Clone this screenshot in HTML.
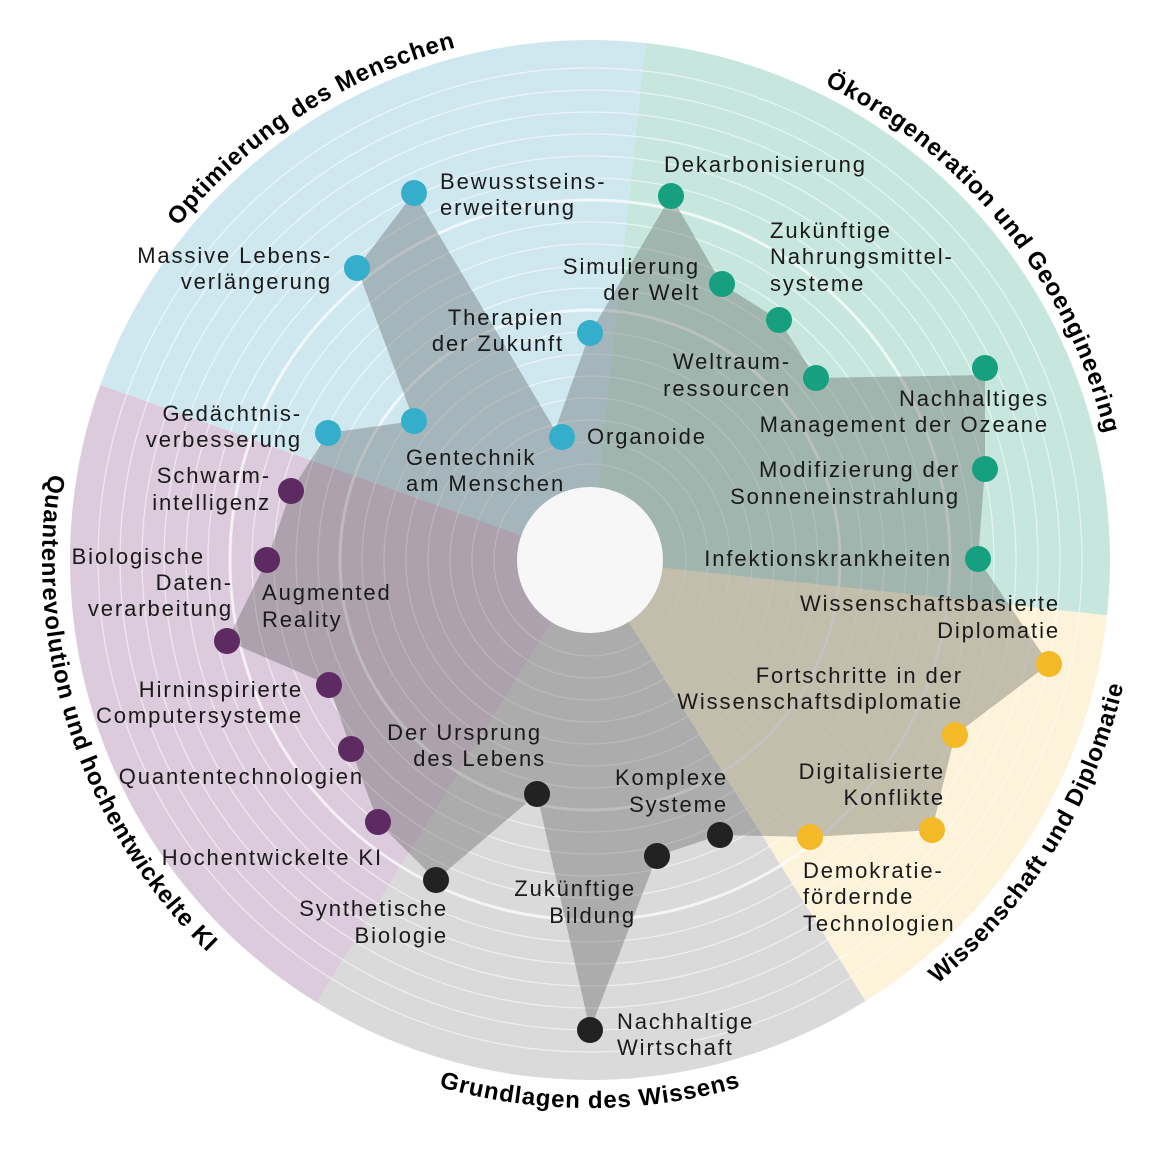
<!DOCTYPE html>
<html><head><meta charset="utf-8"><style>
html,body{margin:0;padding:0;background:#fff;}
svg{display:block}
text{font-family:"Liberation Sans",sans-serif;}
.l{font-size:22px;fill:#1a1a1a;letter-spacing:1.9px}
.c{font-size:24px;font-weight:bold;fill:#000;letter-spacing:0.9px}
</style></head><body>
<svg width="1158" height="1150" viewBox="0 0 1158 1150" xmlns="http://www.w3.org/2000/svg">
<defs>
<path id="p1" d="M60.6,585.9 A530,530 0 0 1 832.2,88.8"/>
<path id="p2" d="M509.8,36.1 A530,530 0 0 1 1083.8,752.5"/>
<path id="p3" d="M571.8,1107.7 A548,548 0 0 0 1073.4,301.9"/>
<path id="p4" d="M115.4,834 A548,548 0 0 0 1064.6,834"/>
<path id="p5" d="M180.2,196.2 A548,548 0 0 0 479.8,1096.8"/>
</defs>
<path d="M590,560 L645.3,43 A520,520 0 0 1 1107,615.3 Z" fill="#c7e7de"/>
<path d="M590,560 L1107,615.3 A520,520 0 0 1 865.5,1001 Z" fill="#fcf3da"/>
<path d="M590,560 L865.5,1001 A520,520 0 0 1 316.7,1002.4 Z" fill="#dadada"/>
<path d="M590,560 L316.7,1002.4 A520,520 0 0 1 100.4,384.7 Z" fill="#dccbdc"/>
<path d="M590,560 L100.4,384.7 A520,520 0 0 1 645.3,43 Z" fill="#cfe8f0"/>
<g fill="none" stroke="#fff" stroke-opacity="0.55" stroke-width="1.3">
<circle cx="590" cy="560" r="96"/><circle cx="590" cy="560" r="118"/><circle cx="590" cy="560" r="140"/><circle cx="590" cy="560" r="162"/><circle cx="590" cy="560" r="184"/><circle cx="590" cy="560" r="206"/><circle cx="590" cy="560" r="228"/><circle cx="590" cy="560" r="272"/><circle cx="590" cy="560" r="294"/><circle cx="590" cy="560" r="316"/><circle cx="590" cy="560" r="338"/><circle cx="590" cy="560" r="382"/><circle cx="590" cy="560" r="404"/><circle cx="590" cy="560" r="426"/><circle cx="590" cy="560" r="448"/><circle cx="590" cy="560" r="470"/><circle cx="590" cy="560" r="492"/>
</g>
<g fill="none" stroke="#fff" stroke-opacity="0.7" stroke-width="3">
<circle cx="590" cy="560" r="250"/><circle cx="590" cy="560" r="360"/>
</g>
<polygon fill="#4a4a4a" fill-opacity="0.32" points="671,196 722,284 779,320 816,378 985,375 985,469 978,559 1049,664 955,735 932,830 810,837 720,835 657,856 590,1030 537,794 436,880 378,822 351,749 329,685 227,641 267,560 291,491 328,433 414,421 357,268 414,193 555,430 590,333"/>
<circle cx="590" cy="560" r="73" fill="#f7f7f7"/>
<g fill="#35aecb">
<circle cx="414" cy="193" r="13"/><circle cx="357" cy="268" r="13"/><circle cx="590" cy="333" r="13"/><circle cx="328" cy="433" r="13"/><circle cx="414" cy="421" r="13"/><circle cx="562" cy="437" r="13"/>
</g>
<g fill="#16a07f">
<circle cx="671" cy="196" r="13"/><circle cx="722" cy="284" r="13"/><circle cx="779" cy="320" r="13"/><circle cx="816" cy="378" r="13"/><circle cx="985" cy="368" r="13"/><circle cx="985" cy="469" r="13"/><circle cx="978" cy="559" r="13"/>
</g>
<g fill="#f4b926">
<circle cx="1049" cy="664" r="13"/><circle cx="955" cy="735" r="13"/><circle cx="932" cy="830" r="13"/><circle cx="810" cy="837" r="13"/>
</g>
<g fill="#222">
<circle cx="590" cy="1030" r="13"/><circle cx="657" cy="856" r="13"/><circle cx="720" cy="835" r="13"/><circle cx="537" cy="794" r="13"/><circle cx="436" cy="880" r="13"/>
</g>
<g fill="#5e2a62">
<circle cx="291" cy="491" r="13"/><circle cx="267" cy="560" r="13"/><circle cx="227" cy="641" r="13"/><circle cx="329" cy="685" r="13"/><circle cx="351" cy="749" r="13"/><circle cx="378" cy="822" r="13"/>
</g>
<g class="l">
<text x="440" y="189">Bewusstseins-</text><text x="440" y="215">erweiterung</text>
<text x="332" y="263" text-anchor="end">Massive Lebens-</text><text x="332" y="289" text-anchor="end">verlängerung</text>
<text x="564" y="325" text-anchor="end">Therapien</text><text x="564" y="351" text-anchor="end">der Zukunft</text>
<text x="302" y="421" text-anchor="end">Gedächtnis-</text><text x="302" y="447" text-anchor="end">verbesserung</text>
<text x="406" y="465">Gentechnik</text><text x="406" y="491">am Menschen</text>
<text x="587" y="444">Organoide</text>
<text x="664" y="172">Dekarbonisierung</text>
<text x="700" y="274" text-anchor="end">Simulierung</text><text x="700" y="300" text-anchor="end">der Welt</text>
<text x="770" y="238">Zukünftige</text><text x="770" y="264">Nahrungsmittel-</text><text x="770" y="291">systeme</text>
<text x="791" y="369" text-anchor="end">Weltraum-</text><text x="791" y="396" text-anchor="end">ressourcen</text>
<text x="1049" y="406" text-anchor="end">Nachhaltiges</text><text x="1049" y="432" text-anchor="end">Management der Ozeane</text>
<text x="960" y="477" text-anchor="end">Modifizierung der</text><text x="960" y="504" text-anchor="end">Sonneneinstrahlung</text>
<text x="952" y="566" text-anchor="end">Infektionskrankheiten</text>
<text x="1060" y="611" text-anchor="end">Wissenschaftsbasierte</text><text x="1060" y="638" text-anchor="end">Diplomatie</text>
<text x="963" y="683" text-anchor="end">Fortschritte in der</text><text x="963" y="709" text-anchor="end">Wissenschaftsdiplomatie</text>
<text x="945" y="779" text-anchor="end">Digitalisierte</text><text x="945" y="805" text-anchor="end">Konflikte</text>
<text x="803" y="878">Demokratie-</text><text x="803" y="904">fördernde</text><text x="803" y="931">Technologien</text>
<text x="617" y="1029">Nachhaltige</text><text x="617" y="1055">Wirtschaft</text>
<text x="636" y="896" text-anchor="end">Zukünftige</text><text x="636" y="923" text-anchor="end">Bildung</text>
<text x="728" y="785" text-anchor="end">Komplexe</text><text x="728" y="812" text-anchor="end">Systeme</text>
<text x="542" y="740" text-anchor="end">Der Ursprung</text><text x="546" y="766" text-anchor="end">des Lebens</text>
<text x="448" y="916" text-anchor="end">Synthetische</text><text x="448" y="943" text-anchor="end">Biologie</text>
<text x="271" y="483" text-anchor="end">Schwarm-</text><text x="271" y="510" text-anchor="end">intelligenz</text>
<text x="205" y="564" text-anchor="end">Biologische</text><text x="233" y="590" text-anchor="end">Daten-</text><text x="233" y="616" text-anchor="end">verarbeitung</text>
<text x="262" y="600">Augmented</text><text x="262" y="627">Reality</text>
<text x="303" y="697" text-anchor="end">Hirninspirierte</text><text x="303" y="723" text-anchor="end">Computersysteme</text>
<text x="364" y="784" text-anchor="end">Quantentechnologien</text>
<text x="383" y="865" text-anchor="end">Hochentwickelte KI</text>
</g>
<g class="c">
<text><textPath href="#p1" startOffset="50%" text-anchor="middle">Optimierung des Menschen</textPath></text>
<text><textPath href="#p2" startOffset="50%" text-anchor="middle">Ökoregeneration und Geoengineering</textPath></text>
<text><textPath href="#p3" startOffset="50%" text-anchor="middle">Wissenschaft und Diplomatie</textPath></text>
<text><textPath href="#p4" startOffset="50%" text-anchor="middle">Grundlagen des Wissens</textPath></text>
<text><textPath href="#p5" startOffset="50%" text-anchor="middle">Quantenrevolution und hochentwickelte KI</textPath></text>
</g>
</svg>
</body></html>
